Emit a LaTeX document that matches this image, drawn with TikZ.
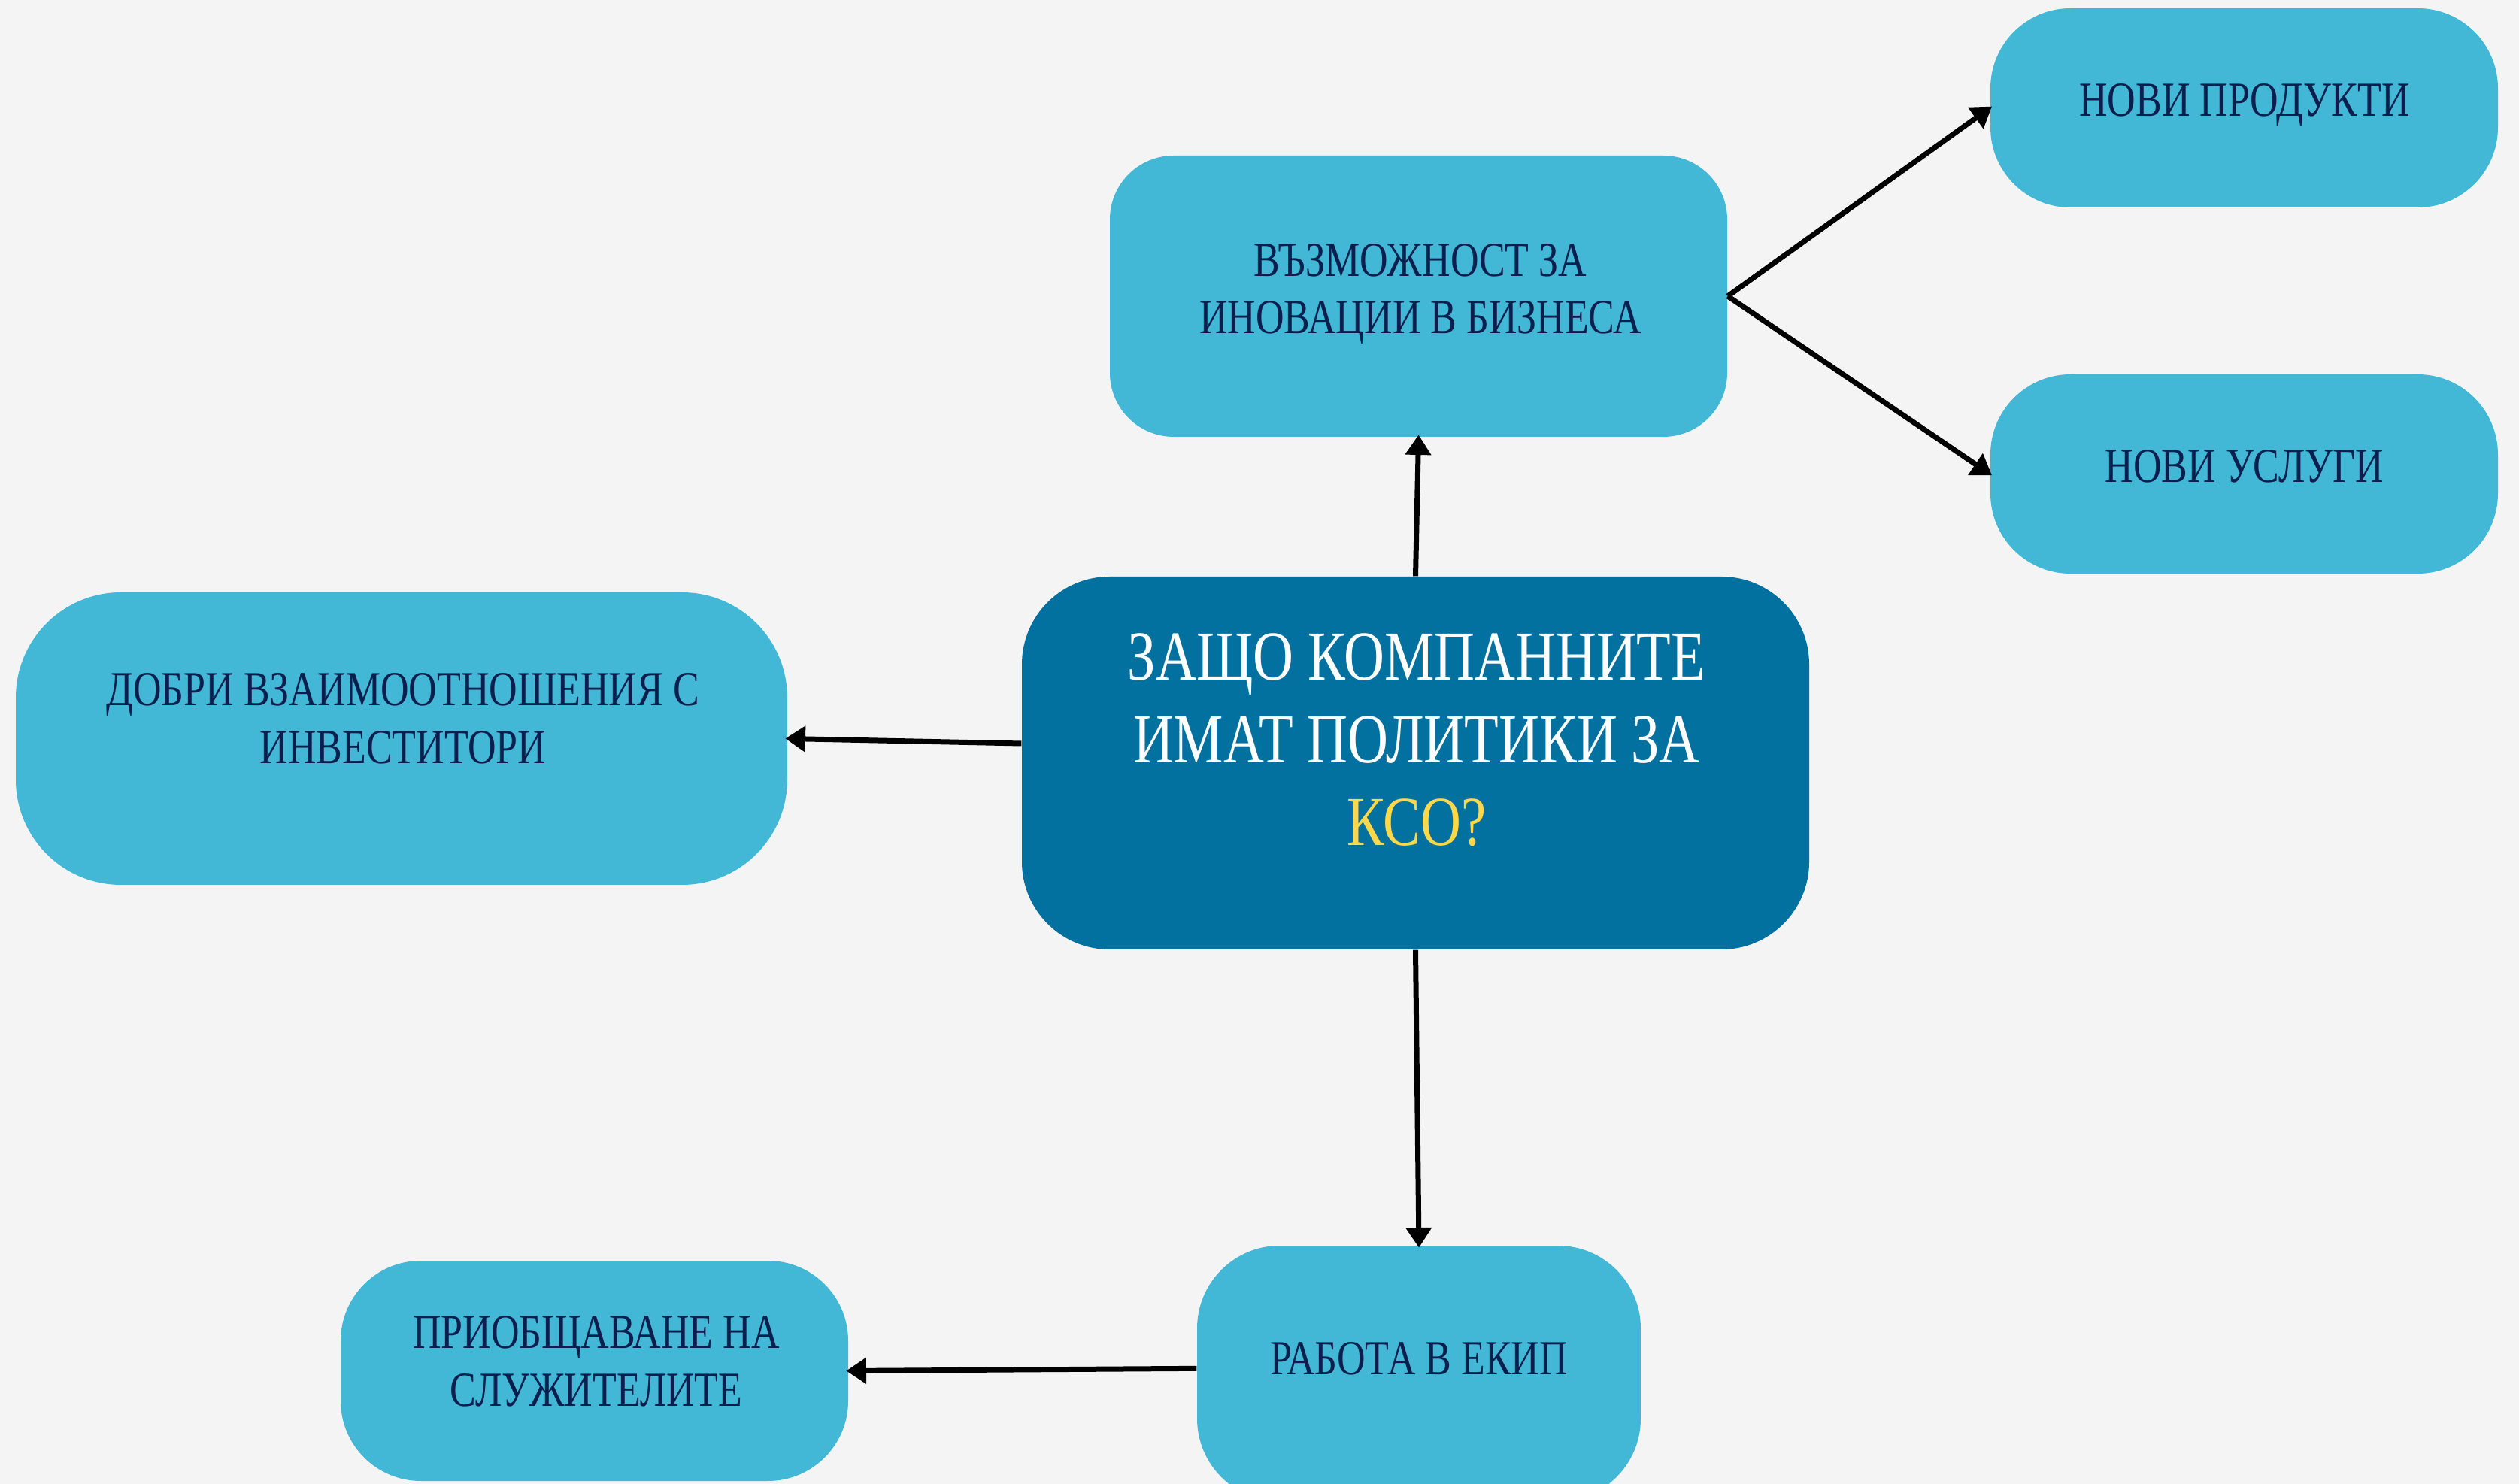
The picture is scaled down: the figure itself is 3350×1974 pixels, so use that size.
\documentclass[tikz,border=0pt]{standalone}
\usepackage{fontspec}
\setmainfont{Liberation Serif}[FakeStretch=0.8]
\usetikzlibrary{arrows.meta}
\definecolor{bgc}{HTML}{F4F4F4}
\definecolor{lightb}{HTML}{42B7D6}
\definecolor{darkb}{HTML}{0271A0}
\definecolor{navy}{HTML}{0B1F4F}
\definecolor{ylw}{HTML}{FFD84A}
\tikzset{
  box/.style={rectangle, fill=lightb, inner sep=0pt, draw=none},
  cbox/.style={rectangle, fill=darkb, inner sep=0pt, draw=none},
  lbl/.style={text=navy, font=\fontsize{19.5}{23}\selectfont, align=center, inner sep=0pt},
  clbl/.style={text=white, font=\fontsize{28}{33}\selectfont, align=center, inner sep=0pt},
  conn/.style={line width=2.1pt, -{Triangle[length=8pt,width=10pt]}, shorten >=-1pt}
}
\begin{document}
\begin{tikzpicture}[x=0.3pt,y=-0.3pt]
\useasboundingbox (0,0) rectangle (3350,1974);
\clip (0,0) rectangle (3350,1974);
\fill[bgc] (0,0) rectangle (3350,1974);

\node[cbox, rounded corners=35pt, minimum width=1047*0.3pt, minimum height=496*0.3pt] (c) at (1882.5,1015) {};
\node[box, rounded corners=25.5pt, minimum width=821*0.3pt, minimum height=374*0.3pt] (top) at (1886.5,394) {};
\node[box, rounded corners=32pt, minimum width=675*0.3pt, minimum height=265*0.3pt] (np) at (2984.5,143.5) {};
\node[box, rounded corners=32pt, minimum width=675*0.3pt, minimum height=265*0.3pt] (nu) at (2984.5,630.5) {};
\node[box, rounded corners=42pt, minimum width=1026*0.3pt, minimum height=389*0.3pt] (db) at (534,982.5) {};
\node[box, rounded corners=33pt, minimum width=590*0.3pt, minimum height=340*0.3pt] (rab) at (1887,1827) {};
\node[box, rounded corners=32pt, minimum width=675*0.3pt, minimum height=293*0.3pt] (pri) at (790.5,1823.5) {};

\node[clbl] (ct) at (1884,984) {ЗАЩО КОМПАННИТЕ\\ИМАТ ПОЛИТИКИ ЗА\\\textcolor{ylw}{КСО?}};
\node[lbl] (topt) at (1889,391) {ВЪЗМОЖНОСТ ЗА\\ИНОВАЦИИ В БИЗНЕСА};
\node[lbl] (npt) at (2985,140) {НОВИ ПРОДУКТИ};
\node[lbl] (nut) at (2985,620) {НОВИ УСЛУГИ};
\node[lbl] (dbt) at (536,956) {ДОБРИ ВЗАИМООТНОШЕНИЯ С\\ИНВЕСТИТОРИ};
\node[lbl] (rabt) at (1887,1807) {РАБОТА В ЕКИП};
\node[lbl] (prit) at (793,1811) {ПРИОБЩАВАНЕ НА\\СЛУЖИТЕЛИТЕ};

\draw[conn] (c.north) -- (top.south);
\draw[conn] (top.east) -- (np.west);
\draw[conn] (top.east) -- (nu.west);
\draw[conn] ([yshift=7.8pt]c.west) -- (db.east);
\draw[conn] (c.south) -- (rab.north);
\draw[conn] ([yshift=2pt]rab.west) -- (pri.east);
\end{tikzpicture}
\end{document}
